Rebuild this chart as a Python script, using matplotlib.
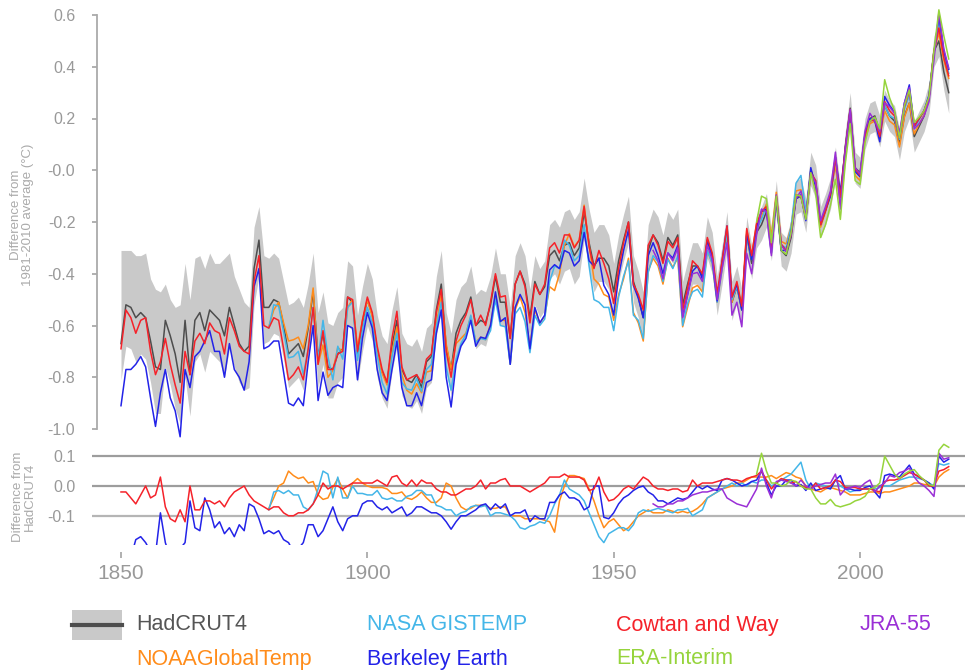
import numpy as np
import matplotlib
matplotlib.use("Agg")
import matplotlib.pyplot as plt
from matplotlib.patches import Rectangle
from matplotlib.lines import Line2D

plt.rcParams["font.family"] = ["Liberation Sans", "DejaVu Sans"]

# ── data: annual anomalies vs 1981-2010 (°C) ────────────────────────────────

had_start = 1850
hadcrut4 = [
    -0.67, -0.52, -0.53, -0.57, -0.55, -0.57, -0.66, -0.76, -0.77, -0.58,
    -0.64, -0.71, -0.82, -0.58, -0.79, -0.58, -0.55, -0.62, -0.54, -0.56,
    -0.58, -0.64, -0.53, -0.60, -0.67, -0.70, -0.68, -0.38, -0.27, -0.53,
    -0.53, -0.50, -0.51, -0.60, -0.71, -0.69, -0.67, -0.72, -0.61, -0.47,
    -0.72, -0.63, -0.76, -0.77, -0.71, -0.69, -0.49, -0.51, -0.71, -0.59,
    -0.50, -0.56, -0.70, -0.78, -0.82, -0.68, -0.58, -0.77, -0.81, -0.82,
    -0.79, -0.84, -0.74, -0.72, -0.54, -0.44, -0.68, -0.77, -0.63, -0.58,
    -0.55, -0.49, -0.60, -0.58, -0.59, -0.52, -0.41, -0.51, -0.51, -0.65,
    -0.44, -0.39, -0.44, -0.57, -0.43, -0.48, -0.45, -0.33, -0.31, -0.35,
    -0.29, -0.28, -0.33, -0.30, -0.16, -0.28, -0.37, -0.34, -0.34, -0.37,
    -0.47, -0.35, -0.27, -0.20, -0.43, -0.49, -0.57, -0.31, -0.25, -0.28,
    -0.35, -0.26, -0.29, -0.25, -0.52, -0.44, -0.37, -0.37, -0.41, -0.27,
    -0.33, -0.49, -0.37, -0.24, -0.51, -0.45, -0.54, -0.25, -0.36, -0.24,
    -0.21, -0.16, -0.29, -0.11, -0.31, -0.33, -0.26, -0.11, -0.10, -0.18,
    0.00, -0.05, -0.20, -0.15, -0.09, 0.03, -0.12, 0.09, 0.24, 0.01,
    -0.01, 0.14, 0.20, 0.21, 0.15, 0.25, 0.21, 0.19, 0.10, 0.21,
    0.26, 0.13, 0.17, 0.21, 0.28, 0.46, 0.50, 0.38, 0.30,
]

# uncertainty range, distance above / below the HadCRUT4 central value
had_hi = [
    0.36, 0.21, 0.22, 0.24, 0.22, 0.25, 0.24, 0.30, 0.30, 0.14,
    0.14, 0.18, 0.30, 0.22, 0.29, 0.24, 0.22, 0.24, 0.22, 0.20,
    0.22, 0.30, 0.21, 0.19, 0.21, 0.19, 0.15, 0.16, 0.13, 0.20,
    0.19, 0.18, 0.17, 0.17, 0.19, 0.18, 0.18, 0.19, 0.17, 0.15,
    0.17, 0.16, 0.17, 0.17, 0.16, 0.16, 0.14, 0.14, 0.15, 0.14,
    0.14, 0.14, 0.14, 0.14, 0.15, 0.14, 0.13, 0.14, 0.14, 0.14,
    0.14, 0.14, 0.13, 0.13, 0.13, 0.13, 0.13, 0.14, 0.13, 0.13,
    0.12, 0.12, 0.12, 0.12, 0.12, 0.11, 0.11, 0.11, 0.11, 0.12,
    0.11, 0.11, 0.11, 0.11, 0.10, 0.10, 0.10, 0.12, 0.12, 0.13,
    0.13, 0.13, 0.14, 0.14, 0.13, 0.13, 0.13, 0.13, 0.13, 0.12,
    0.11, 0.10, 0.10, 0.10, 0.10, 0.10, 0.10, 0.10, 0.10, 0.10,
    0.10, 0.10, 0.10, 0.10, 0.09, 0.09, 0.09, 0.09, 0.09, 0.09,
    0.09, 0.08, 0.08, 0.08, 0.08, 0.08, 0.08, 0.07, 0.07, 0.07,
    0.07, 0.07, 0.07, 0.07, 0.07, 0.07, 0.07, 0.07, 0.07, 0.07,
    0.07, 0.07, 0.06, 0.06, 0.06, 0.06, 0.06, 0.06, 0.06, 0.06,
    0.06, 0.06, 0.06, 0.06, 0.06, 0.06, 0.06, 0.06, 0.06, 0.06,
    0.06, 0.06, 0.06, 0.06, 0.06, 0.06, 0.06, 0.06, 0.06,
]
had_lo = [
    0.14, 0.16, 0.16, 0.17, 0.16, 0.16, 0.16, 0.18, 0.17, 0.18,
    0.19, 0.21, 0.16, 0.22, 0.16, 0.16, 0.16, 0.16, 0.16, 0.16,
    0.16, 0.16, 0.16, 0.16, 0.15, 0.15, 0.16, 0.14, 0.14, 0.14,
    0.13, 0.13, 0.13, 0.13, 0.13, 0.13, 0.13, 0.13, 0.12, 0.12,
    0.12, 0.12, 0.12, 0.11, 0.11, 0.11, 0.11, 0.11, 0.11, 0.11,
    0.10, 0.10, 0.10, 0.10, 0.10, 0.10, 0.10, 0.10, 0.10, 0.10,
    0.10, 0.10, 0.10, 0.10, 0.10, 0.10, 0.10, 0.10, 0.10, 0.10,
    0.09, 0.09, 0.09, 0.09, 0.09, 0.09, 0.09, 0.09, 0.09, 0.09,
    0.09, 0.09, 0.09, 0.09, 0.09, 0.09, 0.09, 0.09, 0.09, 0.09,
    0.10, 0.10, 0.11, 0.11, 0.11, 0.10, 0.10, 0.09, 0.09, 0.09,
    0.08, 0.08, 0.08, 0.08, 0.08, 0.08, 0.08, 0.08, 0.08, 0.08,
    0.07, 0.07, 0.07, 0.07, 0.07, 0.07, 0.07, 0.07, 0.07, 0.07,
    0.07, 0.07, 0.07, 0.07, 0.07, 0.06, 0.06, 0.06, 0.06, 0.06,
    0.06, 0.06, 0.06, 0.06, 0.06, 0.06, 0.06, 0.06, 0.06, 0.06,
    0.06, 0.06, 0.06, 0.06, 0.06, 0.06, 0.06, 0.06, 0.06, 0.06,
    0.06, 0.06, 0.06, 0.06, 0.06, 0.06, 0.06, 0.06, 0.06, 0.06,
    0.06, 0.06, 0.06, 0.06, 0.06, 0.06, 0.06, 0.07, 0.08,
]

# other datasets, as difference from HadCRUT4 (°C)
cw_start = 1850
cowtan_way = [
    -0.02, -0.02, -0.04, -0.06, -0.03, 0.00, -0.04, -0.03, 0.03, -0.07,
    -0.11, -0.12, -0.08, -0.12, 0.00, -0.08, -0.08, -0.05, -0.05, -0.06,
    -0.05, -0.07, -0.04, -0.02, -0.01, 0.00, -0.03, -0.05, -0.06, -0.07,
    -0.08, -0.07, -0.07, -0.09, -0.10, -0.10, -0.09, -0.09, -0.08, -0.06,
    -0.03, 0.01, -0.01, 0.00, 0.00, -0.01, 0.00, 0.01, 0.01, 0.01,
    0.01, 0.01, 0.02, 0.01, 0.00, 0.03, 0.035, 0.01, 0.00, 0.02,
    0.00, 0.02, 0.01, 0.01, -0.01, -0.02, -0.02, -0.03, -0.03, -0.02,
    -0.01, -0.01, 0.00, 0.02, -0.01, 0.01, 0.01, 0.02, 0.025, 0.00,
    0.00, 0.00, -0.01, -0.02, -0.01, 0.00, 0.01, 0.03, 0.03, 0.03,
    0.04, 0.03, 0.03, 0.03, 0.02, -0.015, -0.01, 0.03, -0.02, -0.05,
    -0.045, -0.03, -0.01, 0.00, -0.01, 0.01, 0.03, 0.02, 0.00, -0.01,
    -0.01, -0.015, -0.01, -0.01, -0.02, -0.015, 0.02, 0.00, 0.01, 0.01,
    0.01, 0.015, 0.02, 0.025, 0.02, 0.02, 0.015, 0.025, 0.03, 0.035,
    0.05, 0.02, -0.01, 0.01, 0.025, 0.02, 0.01, 0.015, 0.00, -0.005,
    -0.01, 0.01, -0.01, -0.005, 0.00, 0.02, 0.015, -0.005, -0.005, -0.005,
    -0.01, -0.01, -0.01, -0.015, -0.02, 0.015, 0.02, 0.02, 0.025, 0.035,
    0.045, 0.04, 0.03, 0.02, 0.00, 0.00, 0.05, 0.055, 0.065,
]

be_start = 1850
berkeley = [
    -0.24, -0.25, -0.24, -0.18, -0.17, -0.19, -0.22, -0.23, -0.09, -0.19,
    -0.24, -0.22, -0.21, -0.19, -0.05, -0.14, -0.15, -0.04, -0.08, -0.14,
    -0.12, -0.16, -0.14, -0.17, -0.13, -0.15, -0.06, -0.07, -0.11, -0.16,
    -0.15, -0.16, -0.15, -0.18, -0.19, -0.22, -0.21, -0.19, -0.13, -0.13,
    -0.17, -0.15, -0.11, -0.07, -0.12, -0.15, -0.11, -0.10, -0.10, -0.06,
    -0.05, -0.05, -0.07, -0.08, -0.07, -0.09, -0.08, -0.07, -0.10, -0.09,
    -0.07, -0.07, -0.08, -0.09, -0.09, -0.10, -0.12, -0.145, -0.12, -0.10,
    -0.10, -0.09, -0.08, -0.065, -0.06, -0.08, -0.06, -0.075, -0.06, -0.10,
    -0.09, -0.09, -0.08, -0.12, -0.10, -0.11, -0.11, -0.055, -0.055, -0.03,
    -0.02, -0.04, -0.04, -0.05, -0.08, -0.07, 0.00, 0.00, -0.105, -0.11,
    -0.09, -0.06, -0.04, -0.03, -0.015, -0.005, 0.00, -0.02, -0.03, -0.05,
    -0.05, -0.06, -0.05, -0.04, -0.045, -0.04, -0.02, 0.00, -0.01, 0.00,
    -0.01, -0.015, 0.02, 0.025, 0.02, 0.01, 0.00, 0.005, 0.015, 0.02,
    0.05, 0.01, -0.03, 0.00, 0.00, 0.02, 0.02, 0.00, 0.005, -0.015,
    0.01, -0.015, -0.01, -0.005, -0.01, 0.02, 0.035, -0.01, -0.01, -0.015,
    -0.015, -0.005, 0.00, -0.02, -0.04, 0.035, 0.04, 0.035, 0.03, 0.05,
    0.07, 0.04, 0.03, 0.02, 0.01, -0.01, 0.10, 0.08, 0.09,
]

gi_start = 1880
gistemp = [
    -0.08, -0.02, -0.015, -0.025, -0.015, -0.03, -0.03, -0.07, -0.08, -0.06,
    -0.01, 0.05, 0.04, -0.04, 0.03, -0.04, -0.04, 0.00, -0.025, -0.025,
    -0.03, -0.03, -0.015, -0.04, -0.045, -0.04, -0.05, -0.05, -0.035, -0.03,
    -0.015, -0.015, -0.03, -0.03, -0.065, -0.07, -0.08, -0.08, -0.10, -0.09,
    -0.085, -0.07, -0.065, -0.07, -0.065, -0.10, -0.09, -0.09, -0.095, -0.10,
    -0.115, -0.14, -0.145, -0.135, -0.13, -0.12, -0.125, -0.10, -0.06, -0.03,
    0.02, -0.01, -0.02, -0.03, -0.05, -0.09, -0.13, -0.17, -0.19, -0.16,
    -0.15, -0.14, -0.14, -0.15, -0.13, -0.09, -0.08, -0.085, -0.08, -0.075,
    -0.08, -0.085, -0.09, -0.08, -0.08, -0.075, -0.10, -0.09, -0.08, -0.04,
    -0.03, -0.02, -0.01, 0.00, 0.01, 0.00, 0.01, 0.00, 0.015, 0.01,
    0.02, 0.02, 0.00, 0.01, 0.02, 0.03, 0.04, 0.06, 0.08, 0.02,
    -0.01, 0.01, 0.005, 0.00, -0.005, 0.02, 0.00, -0.01, -0.02, -0.015,
    -0.01, -0.01, -0.01, -0.01, -0.005, 0.00, 0.00, 0.01, 0.02, 0.025,
    0.03, 0.03, 0.025, 0.02, 0.01, 0.00, 0.075, 0.07, 0.075,
]

no_start = 1880
noaa = [
    -0.075, -0.04, 0.00, 0.01, 0.05, 0.035, 0.025, 0.03, 0.01, 0.015,
    -0.03, -0.045, -0.04, -0.005, 0.025, -0.01, -0.04, 0.01, 0.025, 0.01,
    0.00, -0.005, -0.005, -0.005, -0.01, -0.025, -0.025, -0.02, -0.04, -0.045,
    -0.035, -0.02, -0.04, -0.055, -0.055, -0.04, 0.01, 0.00, -0.04, -0.07,
    -0.08, -0.075, -0.065, -0.065, -0.065, -0.075, -0.075, -0.07, -0.07, -0.10,
    -0.10, -0.10, -0.11, -0.11, -0.11, -0.11, -0.115, -0.12, -0.155, -0.05,
    0.00, 0.035, 0.035, 0.03, 0.025, -0.01, -0.05, -0.10, -0.14, -0.12,
    -0.11, -0.13, -0.15, -0.14, -0.12, -0.10, -0.09, -0.08, -0.09, -0.09,
    -0.09, -0.08, -0.085, -0.09, -0.085, -0.09, -0.085, -0.075, -0.06, -0.04,
    -0.03, -0.02, -0.01, -0.005, 0.00, 0.01, 0.01, 0.02, 0.03, 0.03,
    0.03, 0.03, 0.035, 0.025, 0.035, 0.045, 0.04, 0.03, 0.025, 0.00,
    -0.01, -0.015, -0.02, -0.01, -0.005, -0.01, -0.015, -0.02, -0.03, -0.03,
    -0.03, -0.025, -0.02, -0.02, -0.025, -0.02, -0.02, -0.015, -0.01, -0.005,
    0.00, 0.01, 0.01, 0.005, 0.005, 0.00, 0.03, 0.045, 0.055,
]

jra_start = 1958
jra55 = [
    -0.06, -0.07,
    -0.07, -0.06, -0.06, -0.05, -0.05, -0.04, -0.03, -0.025, -0.02, -0.02,
    -0.015, -0.01, -0.01, -0.04, -0.05, -0.06, -0.065, -0.07, -0.04, -0.01,
    0.06, 0.00, -0.04, 0.015, 0.02, 0.015, 0.01, 0.00, 0.02, 0.00,
    -0.01, 0.00, 0.005, 0.01, 0.01, 0.04, -0.03, -0.01, -0.005, 0.00,
    -0.005, 0.01, 0.02, -0.02, 0.00, 0.01, 0.035, 0.03, 0.045, 0.05,
    0.06, 0.03, 0.01, 0.00, -0.015, -0.035, 0.11, 0.09, 0.095,
]

era_start = 1979
era_interim = [
    0.04,
    0.11, 0.05, 0.01, 0.01, 0.00, 0.005, 0.02, 0.015, 0.00, -0.01,
    -0.01, -0.04, -0.06, -0.06, -0.045, -0.065, -0.07, -0.065, -0.06, -0.05,
    -0.045, -0.035, -0.01, -0.005, 0.01, 0.10, 0.07, 0.04, 0.025, 0.04,
    0.05, 0.055, 0.035, 0.02, 0.005, 0.00, 0.12, 0.14, 0.13,
]

top_ticks = [-1.0, -0.8, -0.6, -0.4, -0.2, 0.0, 0.2, 0.4, 0.6]
top_tick_labels = ["-1.0", "-0.8", "-0.6", "-0.4", "-0.2", "-0.0", "0.2", "0.4", "0.6"]
diff_ticks = [-0.1, 0.0, 0.1]
diff_tick_labels = ["-0.1", "0.0", "0.1"]
year_ticks = [1850, 1900, 1950, 2000]

# name, start year, diffs, colour (drawn in this order over HadCRUT4)
datasets = [
    ("NOAAGlobalTemp", no_start, noaa, "#ff8c1a"),
    ("NASA GISTEMP", gi_start, gistemp, "#44b6e8"),
    ("Berkeley Earth", be_start, berkeley, "#2323e8"),
    ("Cowtan and Way", cw_start, cowtan_way, "#f5222a"),
    ("JRA-55", jra_start, jra55, "#9a2fd6"),
    ("ERA-Interim", era_start, era_interim, "#96d43c"),
]

TXT = "#999999"
W, H = 965, 671


def px_box(left, top, right, bottom):
    """pixel box -> figure fraction [l, b, w, h]"""
    return [left / W, 1 - bottom / H, (right - left) / W, (bottom - top) / H]


# pixel geometry: 1850 at x=121, 4.927 px per year
X_1850, PX_YR = 121, 4.927


def year_at(px):
    return 1850 + (px - X_1850) / PX_YR


fig = plt.figure(figsize=(W / 100, H / 100), dpi=100)

# ── top panel: anomalies ────────────────────────────────────────────────────
ax = fig.add_axes(px_box(97, 5, 965, 440))
had = np.array(hadcrut4)
had_years = np.arange(had_start, had_start + len(had))
ax.fill_between(had_years, had - np.array(had_lo), had + np.array(had_hi),
                color="#c9c9c9", lw=0, zorder=1)
ax.plot(had_years, had, color="#4d4d4d", lw=1.1, zorder=2)

for name, start, diff, col in datasets:
    yrs = np.arange(start, start + len(diff))
    base = had[yrs - had_start]
    ax.plot(yrs, base + np.array(diff), color=col, lw=1.1, zorder=3)

ax.set_xlim(year_at(97), year_at(965))
PX_DEG = 258.75  # px per degree, 0.0 at y=170.25
ax.set_ylim(-1.0 - (440 - 429) / PX_DEG, 0.6 + (15 - 5) / PX_DEG)
for s in ["top", "right", "bottom"]:
    ax.spines[s].set_visible(False)
ax.spines["left"].set_color("#aaaaaa")
ax.spines["left"].set_linewidth(1.3)
ax.spines["left"].set_bounds(-1.0, 0.6)
ax.set_xticks([])
ax.set_yticks(top_ticks)
ax.set_yticklabels(top_tick_labels)
ax.tick_params(axis="y", colors="#aaaaaa", length=3.6, width=1.3, pad=12,
               labelsize=11.5, labelcolor=TXT)
ax.patch.set_alpha(0)

# ── bottom panel: difference from HadCRUT4 ──────────────────────────────────
ax2 = fig.add_axes(px_box(92, 440, 965, 545))
for yv, col in zip(diff_ticks, ["#b5b5b5", "#9d9d9d", "#9d9d9d"]):
    ax2.axhline(yv, color=col, lw=1.6, zorder=1)
for name, start, diff, col in datasets:
    yrs = np.arange(start, start + len(diff))
    ax2.plot(yrs, diff, color=col, lw=1.1, zorder=3)

ax2.set_xlim(year_at(92), year_at(965))
PX_DIFF = 298.0  # px per degree, 0.0 at y=486
ax2.set_ylim(-(545 - 486) / PX_DIFF, (486 - 440) / PX_DIFF)
for s in ["top", "right", "left"]:
    ax2.spines[s].set_visible(False)
ax2.spines["bottom"].set_position(("outward", 5))
ax2.spines["bottom"].set_visible(False)
ax2.set_yticks(diff_ticks)
ax2.set_yticklabels(diff_tick_labels)
ax2.tick_params(axis="y", length=0, pad=12, labelsize=11.5, labelcolor=TXT)
ax2.set_xticks(year_ticks)
ax2.set_xticklabels([str(y) for y in year_ticks])
ax2.tick_params(axis="x", colors="#aaaaaa", length=4.5, width=1.3, pad=4,
                labelsize=15, labelcolor=TXT)
ax2.patch.set_alpha(0)

# ── axis titles ─────────────────────────────────────────────────────────────
fig.text(22 / W, 1 - 215 / H, "Difference from\n1981-2010 average (°C)",
         rotation=90, ha="center", va="center", fontsize=9.5, color="#aaaaaa",
         linespacing=1.0)
fig.text(24 / W, 1 - 497 / H, "Difference from\nHadCRUT4",
         rotation=90, ha="center", va="center", fontsize=9.5, color="#aaaaaa",
         linespacing=1.0)

# ── legend ──────────────────────────────────────────────────────────────────
fig.patches.append(Rectangle((72 / W, 1 - 640 / H), 50 / W, 30 / H,
                             transform=fig.transFigure, color="#c9c9c9", lw=0))
fig.lines.append(Line2D([72 / W, 122 / W], [1 - 625 / H, 1 - 625 / H],
                        transform=fig.transFigure, color="#4d4d4d", lw=3))
colours = {name: col for name, _, _, col in datasets}
legend_items = [
    ("HadCRUT4", "#555555", 136, 625),
    ("NASA GISTEMP", colours["NASA GISTEMP"], 367, 625),
    ("Cowtan and Way", colours["Cowtan and Way"], 616, 625),
    ("JRA-55", colours["JRA-55"], 860, 625),
    ("NOAAGlobalTemp", colours["NOAAGlobalTemp"], 136, 659),
    ("Berkeley Earth", colours["Berkeley Earth"], 367, 659),
    ("ERA-Interim", colours["ERA-Interim"], 616, 659),
]
for label, col, x, y in legend_items:
    fig.text(x / W, 1 - y / H, label, ha="left", va="center",
             fontsize=15.5, color=col)

fig.savefig("out.png", dpi=100)
